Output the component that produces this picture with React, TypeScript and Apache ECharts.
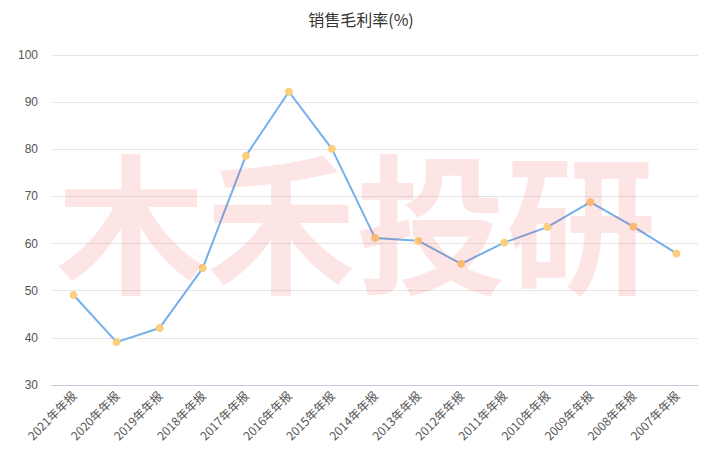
import React, { useEffect, useRef } from "react";
import * as echarts from "echarts";

const titleText = "销售毛利率(%)";
const watermark = "木禾投研";
const categories = [
  "2021年年报", "2020年年报", "2019年年报", "2018年年报", "2017年年报",
  "2016年年报", "2015年年报", "2014年年报", "2013年年报", "2012年年报",
  "2011年年报", "2010年年报", "2009年年报", "2008年年报", "2007年年报",
];
const values = [49.1, 39.1, 42.1, 54.8, 78.6, 92.2, 80.1, 61.2, 60.6, 55.7, 60.2, 63.5, 68.8, 63.6, 57.9];

export default function App() {
  const ref = useRef<HTMLDivElement>(null);
  useEffect(() => {
    if (!ref.current) return;
    const chart = echarts.init(ref.current, null, { renderer: "svg" });
    chart.setOption({
      animation: false,
      backgroundColor: "#fff",
      title: {
        text: titleText,
        left: "center",
        top: 6,
        textStyle: { fontSize: 16, fontWeight: "normal", color: "#333", fontFamily: "Noto Sans CJK SC" },
      },
      grid: { left: 52, right: 24, top: 55, bottom: 67 },
      xAxis: {
        type: "category",
        data: categories,
        boundaryGap: true,
        axisLine: { lineStyle: { color: "#c4cbdc" } },
        axisTick: { lineStyle: { color: "#c4cbdc" }, length: 5 },
        axisLabel: { rotate: 45, color: "#555", fontSize: 12, interval: 0, fontFamily: "Noto Sans CJK SC" },
      },
      yAxis: {
        type: "value",
        min: 30,
        max: 100,
        interval: 10,
        axisLine: { show: false },
        axisTick: { show: false },
        axisLabel: { color: "#555", fontSize: 12, margin: 14 },
        splitLine: { lineStyle: { color: "#e6e6e6" } },
      },
      series: [
        {
          type: "line",
          data: values,
          symbol: "circle",
          symbolSize: 8,
          lineStyle: { color: "#74b0ea", width: 2 },
          itemStyle: { color: "#fbcf7c" },
        },
      ],
      graphic: [
        {
          type: "text",
          left: 56,
          top: 141,
          z: 100,
          silent: true,
          style: {
            text: watermark,
            fontSize: 150,
            fontWeight: "bold",
            fontFamily: "Noto Sans CJK SC",
            fill: "rgba(245,40,40,0.12)",
          },
        },
      ],
    });
    return () => chart.dispose();
  }, []);
  return <div ref={ref} style={{ position: "absolute", left: 0, top: 0, width: 722, height: 452 }} />;
}
